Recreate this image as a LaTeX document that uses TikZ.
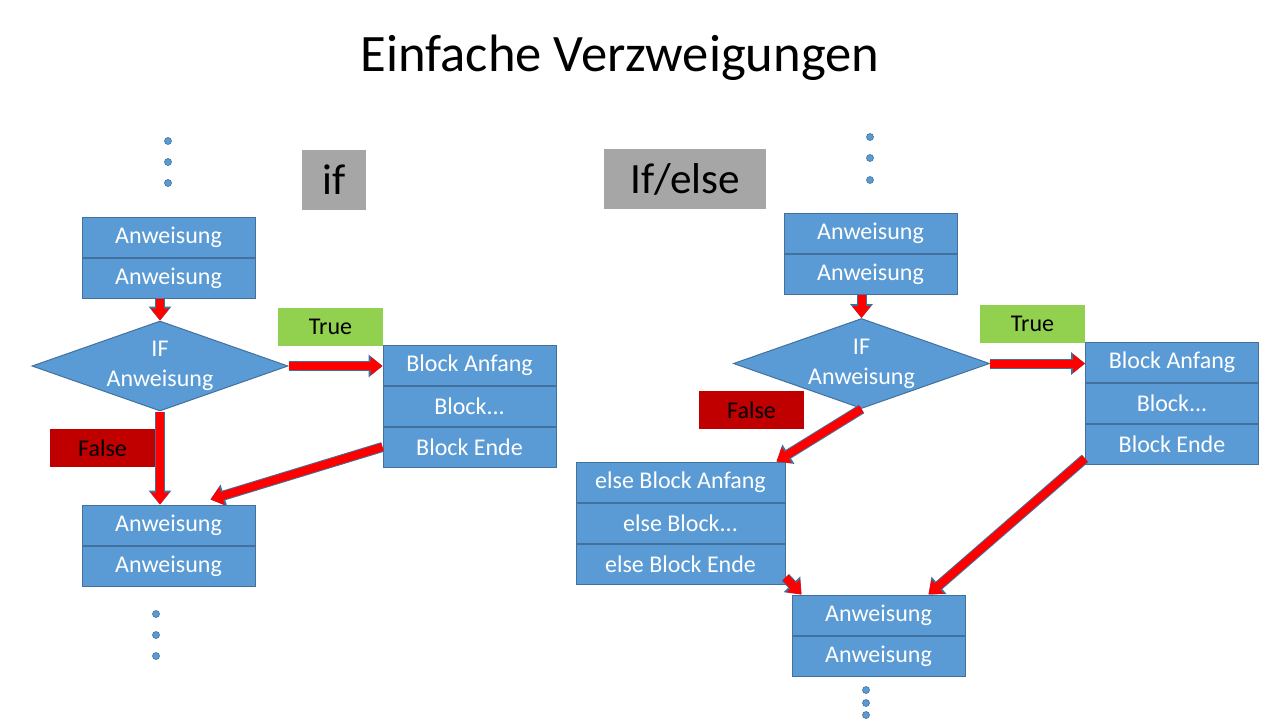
\documentclass[tikz,border=0pt]{standalone}
\usepackage{fontspec}
\setmainfont{Carlito}
\usetikzlibrary{positioning,shapes.geometric,arrows.meta}
\definecolor{boxblue}{HTML}{5B9BD5}
\definecolor{edgeblue}{HTML}{41719C}
\definecolor{truegreen}{HTML}{92D050}
\definecolor{falsered}{HTML}{C00000}
\definecolor{labelgray}{HTML}{A6A6A6}
\tikzset{
  stmt/.style={draw=edgeblue,fill=boxblue,text=white,line width=0.5pt,minimum width=86.5pt,minimum height=20pt,inner sep=0pt,font=\fontsize{12}{14}\selectfont},
  widestmt/.style={stmt,minimum width=104.5pt},
  cond/.style={diamond,aspect=2.84,draw=edgeblue,fill=boxblue,text=white,line width=0.5pt,minimum width=128pt,minimum height=45pt,inner sep=0pt,align=center,font=\fontsize{12}{15}\selectfont},
  tag/.style={minimum width=52.5pt,minimum height=19pt,inner sep=0pt,font=\fontsize{12}{14}\selectfont},
  kind/.style={fill=labelgray,minimum height=30pt,inner sep=0pt,font=\fontsize{21.6}{24}\selectfont},
  flow/.style={preaction={draw=edgeblue,line width=5pt,-{Triangle[length=7pt,width=11pt]}},draw=red,line width=4pt,-{Triangle[length=6pt,width=9pt]}},
  dot/.style={fill=boxblue,draw=edgeblue,line width=0.3pt}
}
\begin{document}
\begin{tikzpicture}[x=0.5pt,y=-0.5pt]
    \useasboundingbox[fill=white] (0,0) rectangle (1280,720);
    \node[font=\fontsize{26.3}{28}\selectfont] (title) at (620,58) {Einfache Verzweigungen};
    % if
    \foreach \y in {141,162,183} {\draw[dot] (168,\y) circle (3.5);}
    \node[kind,minimum width=32pt] (ifkind) at (334,180) {if};
    \node[stmt] (lt1) at (168.5,237) {Anweisung};
    \node[stmt,below=0pt of lt1] (lt2) {Anweisung};
    \node[cond] (ifL) at (160,366) {IF\\Anweisung};
    \node[tag,fill=truegreen] (trueL) at (330.5,327) {True};
    \node[stmt] (bA) at (469.5,365) {Block Anfang};
    \node[stmt,below=0pt of bA] (bB) {Block...};
    \node[stmt,below=0pt of bB] (bC) {Block Ende};
    \node[tag,fill=falsered] (falseL) at (102.5,448) {False};
    \node[stmt] (lb1) at (168.5,525) {Anweisung};
    \node[stmt,below=0pt of lb1] (lb2) {Anweisung};
    \foreach \y in {614,635,656} {\draw[dot] (156,\y) circle (3.5);}
    \draw[flow] (ifL.north |- lt2.south) -- (ifL.north);
    \draw[flow] (ifL.east) -- (ifL.east -| bA.west);
    \draw[flow] (ifL.south) -- (ifL.south |- lb1.north);
    \draw[flow] (bC.west) -- ([xshift=-22.5pt,yshift=2.5pt]lb1.north east);
    % if/else
    \foreach \y in {137,158,180} {\draw[dot] (870,\y) circle (3.5);}
    \node[kind,minimum width=81pt] (elsekind) at (685,179) {If/else};
    \node[stmt] (rt1) at (870.5,233) {Anweisung};
    \node[stmt,below=0pt of rt1] (rt2) {Anweisung};
    \node[cond] (ifR) at (861.5,363.5) {IF\\Anweisung};
    \node[tag,fill=truegreen] (trueR) at (1032.5,324) {True};
    \node[stmt] (rA) at (1172,362) {Block Anfang};
    \node[stmt,below=0pt of rA] (rB) {Block...};
    \node[stmt,below=0pt of rB] (rC) {Block Ende};
    \node[tag,fill=falsered] (falseR) at (751.5,410) {False};
    \node[widestmt] (eA) at (680.5,482) {else Block Anfang};
    \node[widestmt,below=0pt of eA] (eB) {else Block...};
    \node[widestmt,below=0pt of eB] (eC) {else Block Ende};
    \node[stmt] (rb1) at (878.5,615) {Anweisung};
    \node[stmt,below=0pt of rb1] (rb2) {Anweisung};
    \foreach \y in {690,703,715} {\draw[dot] (866,\y) circle (3.5);}
    \draw[flow] (ifR.north |- rt2.south) -- (ifR.north);
    \draw[flow] (ifR.east) -- (ifR.east -| rA.west);
    \draw[flow] (ifR.south) -- ([xshift=-4.5pt]eA.north east);
    \draw[flow] ([yshift=3pt]rC.south west) -- ([xshift=-18.5pt]rb1.north east);
    \draw[flow] ([yshift=3.5pt]eC.south east) -- ([xshift=5pt]rb1.north west);
\end{tikzpicture}
\end{document}
